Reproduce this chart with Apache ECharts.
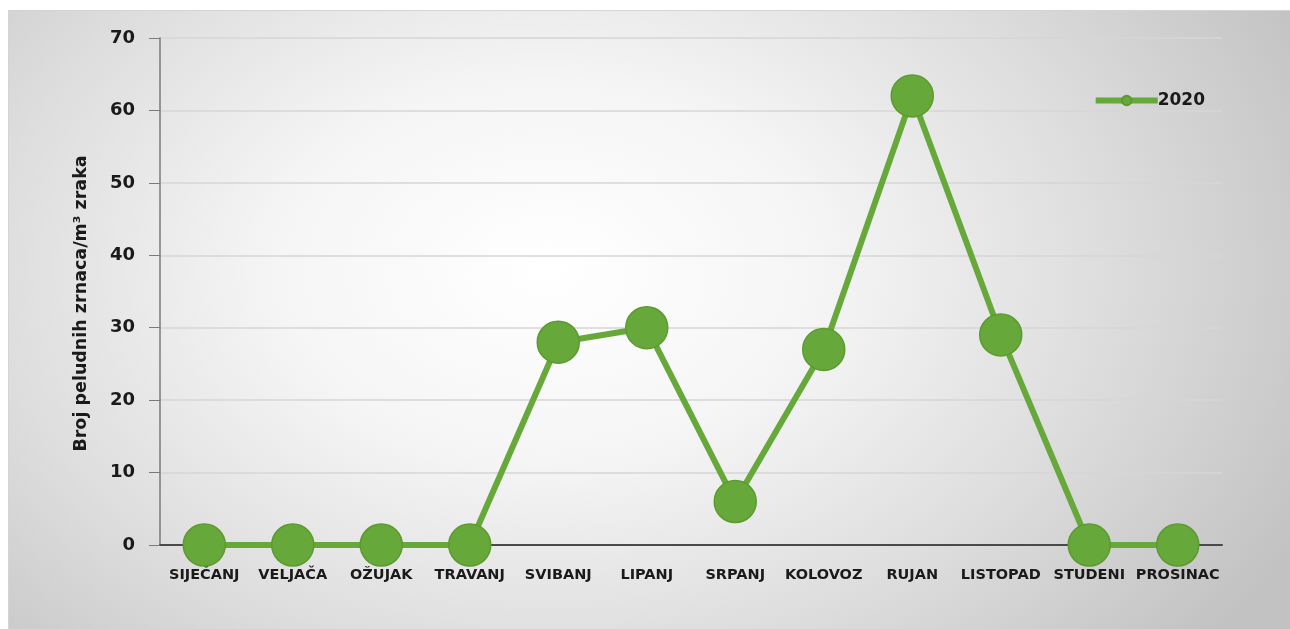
<!DOCTYPE html>
<html><head><meta charset="utf-8">
<script src="https://cdn.jsdelivr.net/npm/echarts@6/dist/echarts.min.js"></script>
<style>
html,body{margin:0;padding:0;background:#fff}
#wrap{position:relative;width:1290px;height:629px;overflow:hidden}
#bg{position:absolute;left:8px;top:10px;width:1282px;height:619px;border-top:1px solid #d4d4d4;border-left:1px solid #d4d4d4;box-sizing:border-box;
background:radial-gradient(ellipse 66% 95% at 42% 42%, #ffffff 0%, #f5f5f5 32%, #dddddd 66%, #c2c2c2 100%);}
#c{position:absolute;left:0;top:0;width:1290px;height:629px}
</style>
</head><body><div id="wrap"><div id="bg"></div><div id="c"></div></div>
<script>
const categories = ['SIJEČANJ','VELJAČA','OŽUJAK','TRAVANJ','SVIBANJ','LIPANJ','SRPANJ','KOLOVOZ','RUJAN','LISTOPAD','STUDENI','PROSINAC'];
const values2020 = [0,0,0,0,28,30,6,27,62,29,0,0];
const seriesName = '2020';
const yAxisTitle = 'Broj peludnih zrnaca/m³ zraka';

const chart = echarts.init(document.getElementById('c'));
const green = '#67a83a';
chart.setOption({
  animation: false,
  backgroundColor: 'transparent',
  grid: {left: 160, right: 68, top: 38, bottom: 84, containLabel: false},
  legend: {
    right: 80, top: 87, itemWidth: 62, itemHeight: 12, itemGap: 0,
    lineStyle: {width: 6},
    textStyle: {fontFamily: 'DejaVu Sans', fontWeight: 'bold', fontSize: 17, color: '#1a1a1a', padding: [0,0,0,-5]},
    data: [seriesName]
  },
  xAxis: {
    type: 'category', data: categories, boundaryGap: true,
    axisLine: {lineStyle: {color: '#4a4a4a', width: 2}},
    axisTick: {show: false},
    axisLabel: {interval: 0, margin: 23, color: '#1a1a1a', fontWeight: 'bold', fontSize: 14.5,
      fontFamily: 'DejaVu Sans'}
  },
  yAxis: {
    type: 'value', min: 0, max: 70, interval: 10,
    name: yAxisTitle, nameLocation: 'middle', nameGap: 70, nameRotate: 90,
    nameTextStyle: {fontWeight: 'bold', fontSize: 17.5, color: '#1a1a1a', fontFamily: 'DejaVu Sans', padding: [0,24,0,0]},
    axisLine: {show: true, lineStyle: {color: '#7a7a7a', width: 1.5}},
    axisTick: {show: true, length: 11, lineStyle: {color: '#7a7a7a'}},
    axisLabel: {margin: 25, color: '#1a1a1a', fontWeight: 'bold', fontSize: 18, fontFamily: 'DejaVu Sans'},
    splitLine: {lineStyle: {color: '#d6d6d6', width: 1.5}}
  },
  series: [{
    name: seriesName, type: 'line', data: values2020,
    symbol: 'circle', symbolSize: 42,
    lineStyle: {color: green, width: 6},
    itemStyle: {color: green, borderColor: '#5c9a30', borderWidth: 1.5}
  }]
});
</script></body></html>
